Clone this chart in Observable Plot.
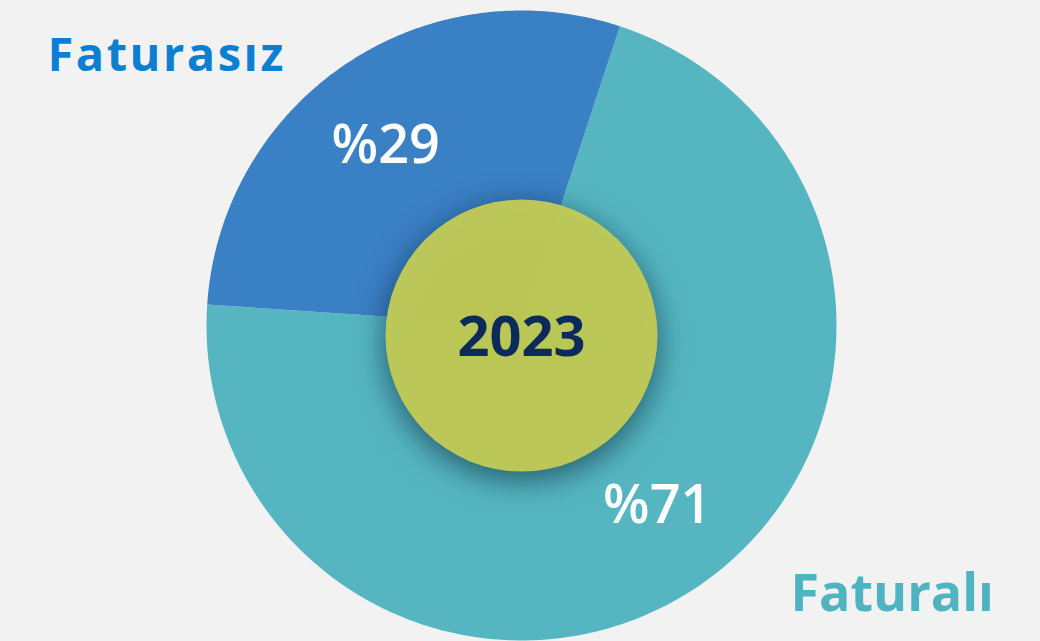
<!DOCTYPE html>
<html><head><meta charset="utf-8">
<script src="https://cdn.jsdelivr.net/npm/d3@7"></script>
<script src="https://cdn.jsdelivr.net/npm/@observablehq/plot@0.6"></script>
<style>
html,body{margin:0;padding:0;background:#f2f2f2;}
#chart{width:1040px;height:641px;overflow:hidden;}
svg{display:block;}
</style></head>
<body><div id="chart"></div>
<script>
const categories = ["Faturalı", "Faturasız"];
const shares = [71, 29];
const colors = ["#55b6c2", "#3a80c4"];
const labelColors = ["#4fb4c1", "#0c7fd0"];
const centerLabel = "2023";

const W = 1040, H = 641, CX = 521, CY = 325, R = 315;
const toX = px => (px - CX) / R, toY = py => (CY - py) / R;

const pie = d3.pie().sort(null).value(d => d.share)
  .startAngle(18.2 * Math.PI / 180).endAngle((18.2 + 360) * Math.PI / 180);
const data = categories.map((c, i) => ({category: c, share: shares[i], color: colors[i]}));
const arcs = pie(data);

const pts = [];
arcs.forEach(a => {
  pts.push({cat: a.data.category, x: 0, y: 0});
  const n = 200;
  for (let k = 0; k <= n; k++) {
    const t = a.startAngle + (a.endAngle - a.startAngle) * k / n;
    pts.push({cat: a.data.category, x: Math.sin(t), y: Math.cos(t)});
  }
});

const labelShift = -3 * Math.PI / 180;
const pctLabels = arcs.map(a => {
  const m = (a.startAngle + a.endAngle) / 2 + labelShift;
  return {text: "%" + a.data.share, x: 0.716 * Math.sin(m), y: 0.716 * Math.cos(m)};
});

const plot = Plot.plot({
  width: W, height: H,
  margin: 0,
  style: {background: "transparent", overflow: "visible"},
  x: {domain: [toX(0), toX(W)], axis: null},
  y: {domain: [toY(H), toY(0)], axis: null},
  color: {domain: categories, range: colors},
  marks: [
    Plot.line(pts, {x: "x", y: "y", z: "cat", fill: "cat", stroke: "none", curve: "linear-closed"}),
    Plot.dot([{x: 0, y: toY(335)}], {x: "x", y: "y", r: 136, fill: "#c1cb56", fillOpacity: 0.96, stroke: "none"}),
    Plot.text([centerLabel], {x: 0, y: toY(338), text: d => d, fill: "#0c2a5b", fontSize: 56, fontWeight: 700, fontFamily: "Open Sans", lineAnchor: "middle"}),
    Plot.text(pctLabels, {x: "x", y: "y", text: "text", fill: "white", fontSize: 54, fontWeight: 600, fontFamily: "Open Sans", lineAnchor: "middle"}),
    Plot.text([categories[1]], {x: toX(47), y: toY(70), text: d => d, fill: labelColors[1], fontSize: 47, fontWeight: 700, fontFamily: "Open Sans", textAnchor: "start", lineAnchor: "bottom"}),
    Plot.text([categories[0]], {x: toX(790), y: toY(610), text: d => d, fill: labelColors[0], fontSize: 52, fontWeight: 700, fontFamily: "Open Sans", textAnchor: "start", lineAnchor: "bottom"})
  ]
});
d3.select(plot).selectAll('g[aria-label="dot"] circle').style("filter", "drop-shadow(0px 8px 16px rgba(0,20,40,0.6))");
d3.select(plot).selectAll('g[aria-label="text"] text').filter(function() { return this.textContent === "Faturasız"; }).style("letter-spacing", "2.5px");
document.getElementById("chart").appendChild(plot);
</script></body></html>
